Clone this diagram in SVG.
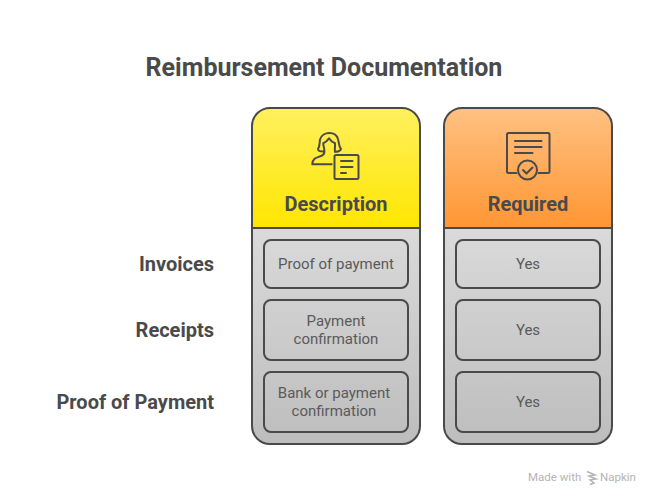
<svg xmlns="http://www.w3.org/2000/svg" width="660" height="504" viewBox="0 0 660 504">
<defs>
<linearGradient id="gy" x1="0" y1="0" x2="0" y2="1"><stop offset="0" stop-color="#FFF05F"/><stop offset="1" stop-color="#FFE600"/></linearGradient>
<linearGradient id="go" x1="0" y1="0" x2="0" y2="1"><stop offset="0" stop-color="#FFC182"/><stop offset="1" stop-color="#FF9633"/></linearGradient>
<linearGradient id="gg" x1="0" y1="0" x2="0" y2="1"><stop offset="0" stop-color="#DADADA"/><stop offset="1" stop-color="#BDBDBD"/></linearGradient>
</defs>
<style>
text{font-family:Roboto,"Liberation Sans",sans-serif;text-anchor:middle}
.t{font-size:25px;font-weight:700;fill:#4a4a4a}
.h{font-size:20px;font-weight:700;fill:#4a4a4a}
.l{font-size:20px;font-weight:700;fill:#4a4a4a;text-anchor:end}
.c{font-size:15px;fill:#5a5a5a}
.w{font-size:11.500px;fill:#b4b4b4;text-anchor:start}
.o{fill:none;stroke:#4a4a4a;stroke-width:2;stroke-linecap:round;stroke-linejoin:round}
.b{stroke:#4a4a4a;stroke-width:2;fill:none}
</style>
<rect width="660" height="504" fill="#FFFFFF"/>
<text class="t" x="324" y="75.500">Reimbursement Documentation</text>
<g id="col-description">
<path d="M252 228H420V426a18 18 0 0 1-18 18H270a18 18 0 0 1-18-18Z" fill="url(#gg)"/>
<path d="M252 228V126a18 18 0 0 1 18-18H402a18 18 0 0 1 18 18V228Z" fill="url(#gy)"/>
<rect x="252" y="108" width="168" height="336" rx="18" class="o"/>
<line x1="252" y1="228" x2="420" y2="228" class="b"/>
<g class="o">
<path d="M324 151.500C321 151.500 318 150.500 318 149C320 146 319.500 142 320 139.500C321 135.500 325 133 329.500 133C334 133 337 135.500 338 139C339 142 338.500 146 341 149C340.500 151 337 152 335 151.700"/>
<path d="M324.300 151.500C324.800 148 323 146 323.300 143.300C325.500 142.500 327 141 329 138.300C331 141 333 142.500 335 143.300C335.300 146 334.500 148.500 335 151.700"/>
<path d="M324.300 151.500C324.500 153.500 323.500 155 321 156C317 157.500 312.500 158 312.300 164.300H331.700"/>
<rect x="334.500" y="155" width="24" height="24" rx="1.500"/>
<path d="M341 161H352.500M341 167H352.500M341 173H346"/>
</g>
<text class="h" x="336" y="211">Description</text>
</g>
<g id="col-required">
<path d="M444 228H612V426a18 18 0 0 1-18 18H462a18 18 0 0 1-18-18Z" fill="url(#gg)"/>
<path d="M444 228V126a18 18 0 0 1 18-18H594a18 18 0 0 1 18 18V228Z" fill="url(#go)"/>
<rect x="444" y="108" width="168" height="336" rx="18" class="o"/>
<line x1="444" y1="228" x2="612" y2="228" class="b"/>
<g class="o">
<path d="M516.500 173H508.500a1.500 1.500 0 0 1-1.500-1.500V134.500a1.500 1.500 0 0 1 1.500-1.500H548a1.500 1.500 0 0 1 1.500 1.500V171.500a1.500 1.500 0 0 1-1.500 1.500H538.500"/>
<path d="M515 141H541.500M515 147H541.500M515 153H532.500"/>
<circle cx="527.500" cy="170" r="9.500"/>
<path d="M523 170l3.500 3.500 6-6"/>
</g>
<text class="h" x="528" y="211">Required</text>
</g>
<g id="row-invoices">
<text class="l" x="214" y="271">Invoices</text>
<rect x="264" y="240" width="144" height="48" rx="7" class="o"/>
<text class="c" x="336" y="269">Proof of payment</text>
<rect x="456" y="240" width="144" height="48" rx="7" class="o"/>
<text class="c" x="528" y="269">Yes</text>
</g>
<g id="row-receipts">
<text class="l" x="214" y="337">Receipts</text>
<rect x="264" y="300" width="144" height="60" rx="7" class="o"/>
<text class="c" x="336" y="326">Payment</text>
<text class="c" x="336" y="344">confirmation</text>
<rect x="456" y="300" width="144" height="60" rx="7" class="o"/>
<text class="c" x="528" y="335">Yes</text>
</g>
<g id="row-proof">
<text class="l" x="214" y="409">Proof of Payment</text>
<rect x="264" y="372" width="144" height="60" rx="7" class="o"/>
<text class="c" x="334" y="398">Bank or payment</text>
<text class="c" x="334" y="416">confirmation</text>
<rect x="456" y="372" width="144" height="60" rx="7" class="o"/>
<text class="c" x="528" y="407">Yes</text>
</g>
<g id="connectors"></g>
<g id="watermark">
<text class="w" x="528" y="481">Made with</text>
<path d="M587 471.500l8 3.500-6 1 7 3-6 1 4 3-4 1.500" fill="none" stroke="#b4b4b4" stroke-width="1.500"/>
<text class="w" x="600" y="481">Napkin</text>
</g>
</svg>
